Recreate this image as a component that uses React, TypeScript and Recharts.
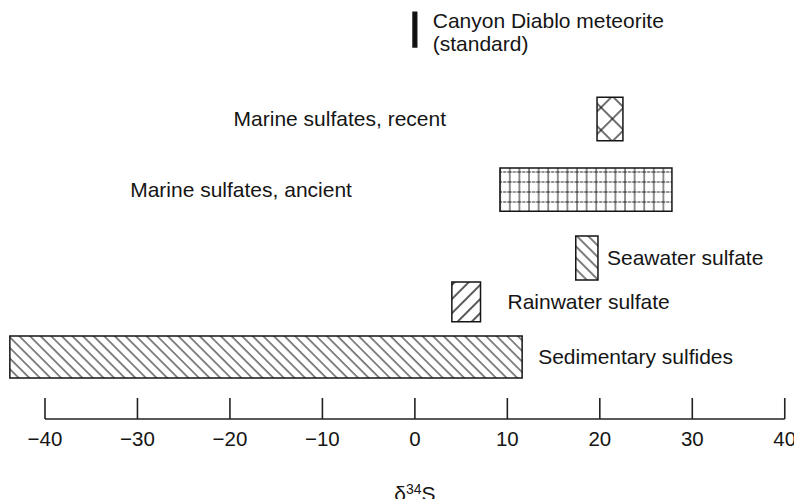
import React from 'react';
import { ComposedChart, XAxis, YAxis, ReferenceArea, ReferenceLine } from 'recharts';

// ---- data ----
const categories = [
  'Canyon Diablo meteorite\n(standard)',
  'Marine sulfates, recent',
  'Marine sulfates, ancient',
  'Seawater sulfate',
  'Rainwater sulfate',
  'Sedimentary sulfides',
];
const rangeLow = [-0.2, 19.7, 9.2, 17.4, 4.0, -43.8];
const rangeHigh = [0.2, 22.5, 27.8, 19.8, 7.1, 11.6];
const xTicks = [-40, -30, -20, -10, 0, 10, 20, 30, 40];

// ---- layout / style ----
const X_DOMAIN: [number, number] = [-44, 41];
const rowTop = [2.9, 23.2, 40.1, 56.3, 67.3, 80.2];
const rowBottom = [11.2, 33.6, 50.4, 66.8, 76.8, 90.2];
const fills = ['#111', 'url(#cross)', 'url(#grid)', 'url(#back)', 'url(#fwd)', 'url(#back2)'];
const labelSide = ['right', 'left', 'left', 'right', 'right', 'right'];
const labelGap = [16, 151, 148, 9, 27, 16];

const FONT = '"Liberation Sans", Arial, Helvetica, sans-serif';
const INK = '#151515';
const LABEL_SIZE = 21;

const data = categories.map((c, i) => ({ name: c, low: rangeLow[i], high: rangeHigh[i] }));

const makeLabel = (i: number) => (props: any) => {
  const vb = props.viewBox || {};
  const cy = vb.y + vb.height / 2;
  const lines = categories[i].split('\n');
  const right = labelSide[i] === 'right';
  const x = right ? vb.x + vb.width + labelGap[i] : vb.x - labelGap[i];
  const common = {
    fontSize: LABEL_SIZE,
    fontFamily: FONT,
    fill: INK,
    textAnchor: (right ? 'start' : 'end') as any,
  };
  if (lines.length > 1) {
    return (
      <text x={x} y={cy - 1.5} {...common}>
        <tspan x={x}>{lines[0]}</tspan>
        <tspan x={x} dy={23}>{lines[1]}</tspan>
      </text>
    );
  }
  return (
    <text x={x} y={cy + 7.5} {...common}>
      {lines[0]}
    </text>
  );
};

const AxisTick = (props: any) => {
  const { x, y, payload } = props;
  const v = payload.value as number;
  const text = v < 0 ? `\u2212${Math.abs(v)}` : `${v}`;
  return (
    <g>
      <line x1={x} x2={x} y1={y} y2={y - 21} stroke="#222" strokeWidth={1.6} />
      <text x={x} y={y + 27} textAnchor="middle" fontSize={20.5} fontFamily={FONT} fill={INK}>
        {text}
      </text>
    </g>
  );
};

const AxisTitle = (props: any) => {
  const vb = props.viewBox || {};
  const cx = vb.x + (vb.width * (0 - X_DOMAIN[0])) / (X_DOMAIN[1] - X_DOMAIN[0]);
  return (
    <text x={cx} y={vb.y + 82} textAnchor="middle" fontSize={21} fontFamily={FONT} fill={INK}>
      δ<tspan dy={-7} fontSize={14}>34</tspan>
      <tspan dy={7}>S</tspan>
    </text>
  );
};

export default function App() {
  return (
    <div style={{ position: 'absolute', left: 0, top: 0, width: 794, height: 499, background: '#fff' }}>
      <ComposedChart width={794} height={499} data={data} margin={{ top: 0, right: 0, bottom: 0, left: 8 }}>
        <defs>
          <pattern id="back" patternUnits="userSpaceOnUse" width={8} height={8} patternTransform="rotate(-45)">
            <rect width={8} height={8} fill="#fff" />
            <line x1={1} y1={0} x2={1} y2={8} stroke="#111" strokeWidth={1.1} />
          </pattern>
          <pattern id="back2" patternUnits="userSpaceOnUse" width={7.5} height={7.5} patternTransform="rotate(-45)">
            <rect width={7.5} height={7.5} fill="#fff" />
            <line x1={1} y1={0} x2={1} y2={7.5} stroke="#111" strokeWidth={1} />
          </pattern>
          <pattern id="fwd" patternUnits="userSpaceOnUse" width={10} height={10} patternTransform="rotate(45)">
            <rect width={10} height={10} fill="#fff" />
            <line x1={1} y1={0} x2={1} y2={10} stroke="#111" strokeWidth={1.4} />
          </pattern>
          <pattern id="cross" patternUnits="userSpaceOnUse" width={16} height={16} patternTransform="rotate(45) translate(4 2)">
            <rect width={16} height={16} fill="#fff" />
            <line x1={1} y1={0} x2={1} y2={16} stroke="#111" strokeWidth={1.2} />
            <line x1={0} y1={1} x2={16} y2={1} stroke="#111" strokeWidth={1.2} />
          </pattern>
          <pattern id="grid" patternUnits="userSpaceOnUse" width={9.6} height={10}>
            <rect width={9.6} height={10} fill="#fff" />
            <line x1={1} y1={0} x2={1} y2={10} stroke="#222" strokeWidth={1} />
            <line x1={0} y1={2} x2={9.6} y2={2} stroke="#222" strokeWidth={1} strokeDasharray="3 1" />
          </pattern>
        </defs>
        <XAxis
          type="number"
          dataKey="low"
          domain={X_DOMAIN}
          ticks={xTicks}
          interval={0}
          allowDataOverflow
          axisLine={false}
          tickLine={false}
          tickSize={0}
          tickMargin={0}
          height={80}
          tick={<AxisTick />}
          label={{ content: <AxisTitle /> } as any}
        />
        <YAxis type="number" domain={[0, 100]} reversed hide allowDataOverflow />
        {categories.map((c, i) => (
          <ReferenceArea
            key={c}
            x1={rangeLow[i]}
            x2={rangeHigh[i]}
            y1={rowTop[i]}
            y2={rowBottom[i]}
            fill={fills[i]}
            fillOpacity={1}
            stroke={INK}
            strokeWidth={1.5}
            ifOverflow="visible"
            label={makeLabel(i)}
          />
        ))}
        <ReferenceLine
          segment={[{ x: -40, y: 100 }, { x: 40, y: 100 }]}
          stroke="#222"
          strokeWidth={1.5}
          ifOverflow="visible"
        />
      </ComposedChart>
    </div>
  );
}
